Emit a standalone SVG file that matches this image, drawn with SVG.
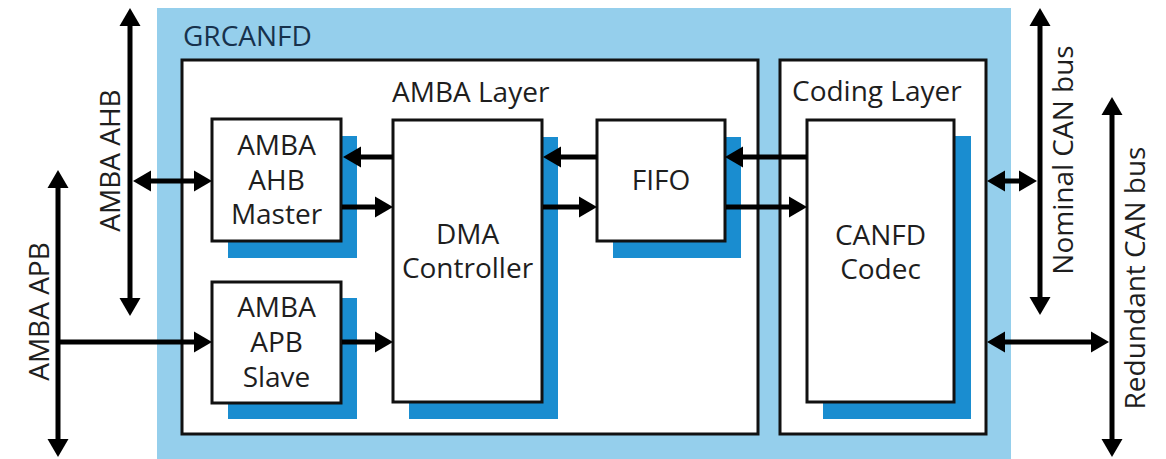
<svg xmlns="http://www.w3.org/2000/svg" width="1166" height="459" viewBox="0 0 1166 459">
<style>
.t{font-family:"Open Sans","Noto Sans","Liberation Sans",sans-serif;font-size:28px;fill:#1e1e1e}
.box{fill:#fff;stroke:#111;stroke-width:3}
.sh{fill:#1a8dd0}
.ln{stroke:#000;stroke-width:5;fill:none}
</style>
<defs>
<marker id="ah" markerUnits="userSpaceOnUse" markerWidth="19" markerHeight="21" refX="0" refY="10.5" orient="auto-start-reverse" overflow="visible">
<path d="M0,0 L18,10.5 L0,21 Z" fill="#000"/>
</marker>
</defs>
<rect x="0" y="0" width="1166" height="459" fill="#fff"/>
<g id="grcanfd">
<rect x="157" y="8" width="854" height="451" fill="#95cfec"/>
<text x="183" y="46" class="t" style="fill:#17324d">GRCANFD</text>
</g>
<g id="amba-layer">
<rect class="box" x="182" y="60" width="576" height="374"/>
<text x="392" y="102" class="t">AMBA Layer</text>
</g>
<g id="coding-layer">
<rect class="box" x="780" y="60" width="206" height="374"/>
<text x="792" y="101" class="t">Coding Layer</text>
</g>
<g id="ahb-master">
<rect class="sh" x="228" y="136" width="129" height="122"/>
<rect class="box" x="212" y="119" width="129" height="122"/>
<text class="t" text-anchor="middle"><tspan x="276.5" y="155">AMBA</tspan><tspan x="276.5" y="190">AHB</tspan><tspan x="276.5" y="224">Master</tspan></text>
</g>
<g id="apb-slave">
<rect class="sh" x="228" y="298" width="129" height="121"/>
<rect class="box" x="212" y="282" width="129" height="121"/>
<text class="t" text-anchor="middle"><tspan x="276.5" y="317">AMBA</tspan><tspan x="276.5" y="352">APB</tspan><tspan x="276.5" y="387">Slave</tspan></text>
</g>
<g id="dma">
<rect class="sh" x="409" y="137" width="149" height="282"/>
<rect class="box" x="393" y="120" width="149" height="282"/>
<text class="t" text-anchor="middle"><tspan x="467.5" y="244">DMA</tspan><tspan x="467.5" y="278">Controller</tspan></text>
</g>
<g id="fifo">
<rect class="sh" x="613" y="137" width="128" height="121"/>
<rect class="box" x="597" y="120" width="128" height="121"/>
<text x="661" y="190" class="t" text-anchor="middle">FIFO</text>
</g>
<g id="codec">
<rect class="sh" x="823" y="136" width="148" height="283"/>
<rect class="box" x="807" y="120" width="147" height="282"/>
<text class="t" text-anchor="middle"><tspan x="880.5" y="245">CANFD</tspan><tspan x="880.5" y="279">Codec</tspan></text>
</g>
<g id="bus-labels">
<text class="t" text-anchor="middle" transform="translate(120,160.5) rotate(-90)">AMBA AHB</text>
<text class="t" text-anchor="middle" transform="translate(49,311.5) rotate(-90)">AMBA APB</text>
<text class="t" text-anchor="middle" transform="translate(1073,160) rotate(-90)">Nominal CAN bus</text>
<text class="t" text-anchor="middle" transform="translate(1145,278) rotate(-90)">Redundant CAN bus</text>
</g>
<g id="connectors">
<line class="ln" x1="130" y1="26" x2="130" y2="298" marker-start="url(#ah)" marker-end="url(#ah)"/>
<line class="ln" x1="151" y1="181" x2="194" y2="181" marker-start="url(#ah)" marker-end="url(#ah)"/>
<line class="ln" x1="58" y1="188" x2="58" y2="439" marker-start="url(#ah)" marker-end="url(#ah)"/>
<line class="ln" x1="56" y1="342" x2="194" y2="342" marker-end="url(#ah)"/>
<line class="ln" x1="342" y1="207" x2="375" y2="207" marker-end="url(#ah)"/>
<line class="ln" x1="393" y1="157" x2="361" y2="157" marker-end="url(#ah)"/>
<line class="ln" x1="342" y1="342" x2="375" y2="342" marker-end="url(#ah)"/>
<line class="ln" x1="597" y1="157" x2="561" y2="157" marker-end="url(#ah)"/>
<line class="ln" x1="543" y1="207" x2="579" y2="207" marker-end="url(#ah)"/>
<line class="ln" x1="807" y1="157" x2="743" y2="157" marker-end="url(#ah)"/>
<line class="ln" x1="726" y1="207" x2="789" y2="207" marker-end="url(#ah)"/>
<line class="ln" x1="1005" y1="181" x2="1019" y2="181" marker-start="url(#ah)" marker-end="url(#ah)"/>
<line class="ln" x1="1040" y1="26" x2="1040" y2="297" marker-start="url(#ah)" marker-end="url(#ah)"/>
<line class="ln" x1="1112" y1="115" x2="1112" y2="439" marker-start="url(#ah)" marker-end="url(#ah)"/>
<line class="ln" x1="1005" y1="342" x2="1091" y2="342" marker-start="url(#ah)" marker-end="url(#ah)"/>
</g>
</svg>
